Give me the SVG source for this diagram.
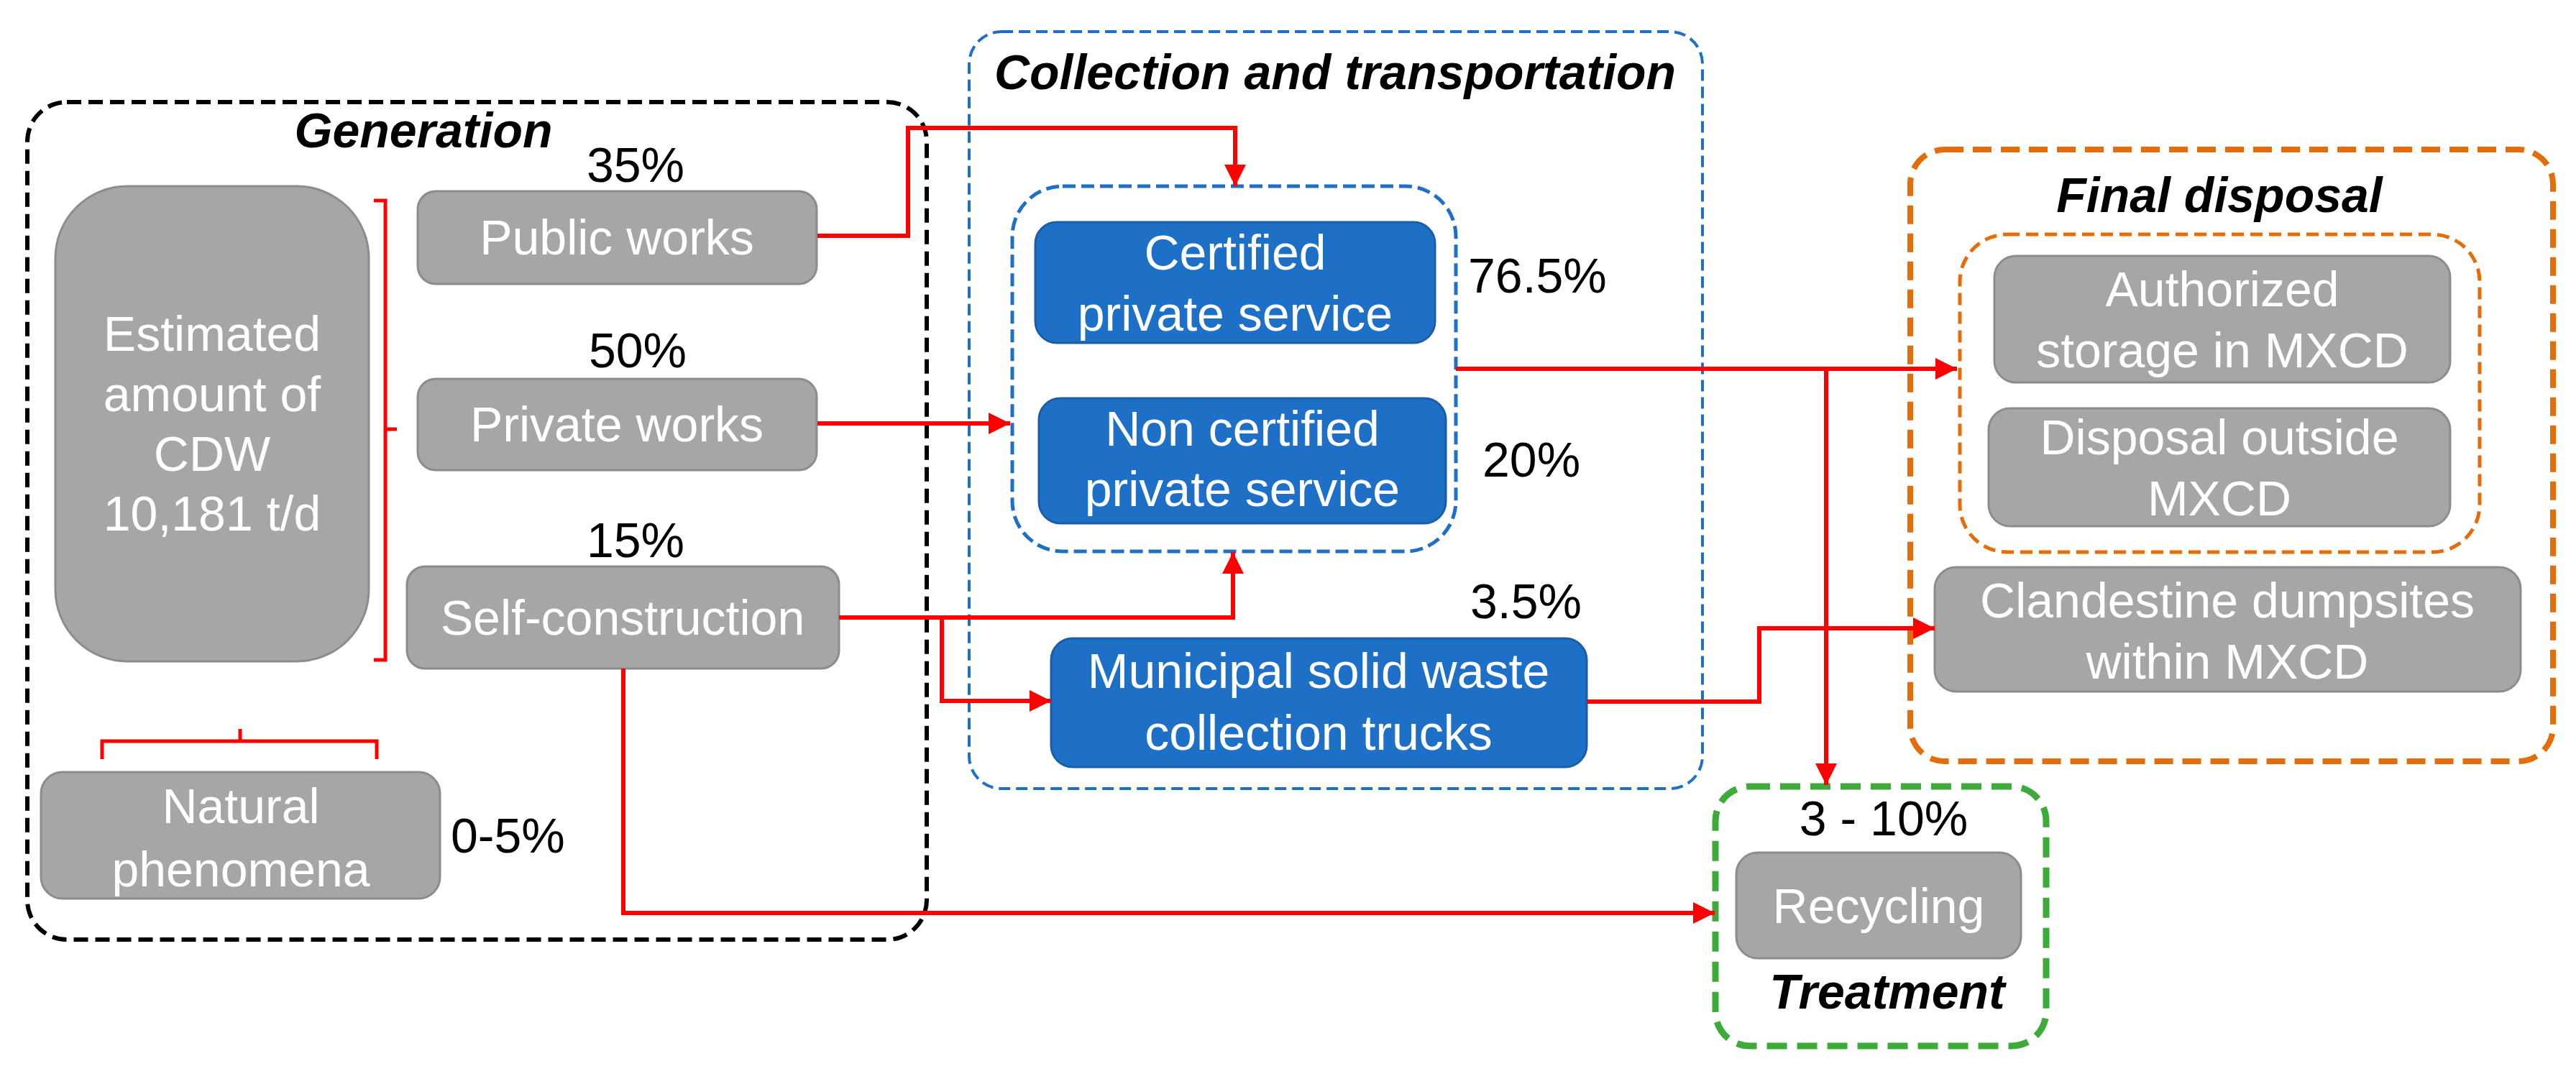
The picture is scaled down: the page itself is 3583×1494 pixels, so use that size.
<svg xmlns="http://www.w3.org/2000/svg" width="3583" height="1494" viewBox="0 0 3583 1494">
<style>
.g{fill:#A6A6A6;stroke:#8C8C8C;stroke-width:3}
.b{fill:#1E6FC6;stroke:#1A5EA8;stroke-width:3}
.nt{font-family:"Liberation Sans",Arial,sans-serif;font-size:68px;fill:#FFFFFF;text-anchor:middle}
.lb{font-family:"Liberation Sans",Arial,sans-serif;font-size:68px;fill:#000000}
.tt{font-family:"Liberation Sans",Arial,sans-serif;font-size:68px;font-weight:bold;font-style:italic;fill:#000000;text-anchor:middle}
.c{fill:none;stroke:#FF0000;stroke-width:6}
.frame{fill:none}
</style>
<defs>
<marker id="ah" markerUnits="userSpaceOnUse" markerWidth="30" markerHeight="30" refX="30" refY="15" orient="auto">
<path d="M0,0 L30,15 L0,30 z" fill="#FF0000"/>
</marker>
</defs>
<rect width="3583" height="1494" fill="#FFFFFF"/>

<g id="frames">
<rect id="generation-frame" class="frame" x="38" y="142" width="1251" height="1165" rx="55" stroke="#000000" stroke-width="6" stroke-dasharray="20 10"/>
<rect id="collection-frame" class="frame" x="1348" y="44" width="1020" height="1053" rx="45" stroke="#1F6FC6" stroke-width="4" stroke-dasharray="16 8"/>
<rect id="collection-inner" class="frame" x="1408" y="259" width="617" height="508" rx="70" stroke="#1F6FC6" stroke-width="5" stroke-dasharray="18 8"/>
<rect id="disposal-frame" class="frame" x="2657" y="208" width="894" height="851" rx="48" stroke="#E46C0A" stroke-width="8" stroke-dasharray="26 13"/>
<rect id="disposal-inner" class="frame" x="2726" y="326" width="723" height="442" rx="66" stroke="#E46C0A" stroke-width="5" stroke-dasharray="17 9"/>
<rect id="treatment-frame" class="frame" x="2386" y="1094" width="460" height="361" rx="48" stroke="#3DAA3A" stroke-width="9" stroke-dasharray="28 14"/>
</g>

<g id="labels">
<text class="tt" x="589" y="205">Generation</text>
<text class="tt" x="1857" y="124">Collection and transportation</text>
<text class="tt" x="3087" y="295">Final disposal</text>
<text class="tt" x="2625" y="1403">Treatment</text>
<text class="lb" x="884" y="253" text-anchor="middle">35%</text>
<text class="lb" x="887" y="511" text-anchor="middle">50%</text>
<text class="lb" x="884" y="775" text-anchor="middle">15%</text>
<text class="lb" x="627" y="1186">0-5%</text>
<text class="lb" x="2042" y="407">76.5%</text>
<text class="lb" x="2062" y="663">20%</text>
<text class="lb" x="2045" y="860">3.5%</text>
<text class="lb" x="2620" y="1162" text-anchor="middle">3 - 10%</text>
</g>

<g id="brackets" fill="none" stroke="#FF0000" stroke-width="5">
<path d="M520,279 H536 V918 H520 M536,597 H552"/>
<path d="M142,1056 V1031 H524 V1056 M334,1031 V1014"/>
</g>

<g id="n-estimated">
<rect class="g" x="77" y="259" width="436" height="661" rx="100"/>
<text class="nt" x="295" y="488">Estimated</text>
<text class="nt" x="295" y="572">amount of</text>
<text class="nt" x="295" y="655">CDW</text>
<text class="nt" x="295" y="738">10,181 t/d</text>
</g>
<g id="n-public">
<rect class="g" x="581" y="266" width="555" height="129" rx="25"/>
<text class="nt" x="858" y="354">Public works</text>
</g>
<g id="n-private">
<rect class="g" x="581" y="527" width="555" height="127" rx="25"/>
<text class="nt" x="858" y="614">Private works</text>
</g>
<g id="n-self">
<rect class="g" x="566" y="788" width="601" height="142" rx="25"/>
<text class="nt" x="866" y="883">Self-construction</text>
</g>
<g id="n-natural">
<rect class="g" x="57" y="1074" width="555" height="176" rx="30"/>
<text class="nt" x="335" y="1145">Natural</text>
<text class="nt" x="335" y="1233">phenomena</text>
</g>
<g id="n-certified">
<rect class="b" x="1440" y="309" width="556" height="168" rx="30"/>
<text class="nt" x="1718" y="375">Certified</text>
<text class="nt" x="1718" y="460">private service</text>
</g>
<g id="n-noncertified">
<rect class="b" x="1445" y="554" width="566" height="174" rx="30"/>
<text class="nt" x="1728" y="620">Non certified</text>
<text class="nt" x="1728" y="704">private service</text>
</g>
<g id="n-municipal">
<rect class="b" x="1462" y="888" width="745" height="179" rx="30"/>
<text class="nt" x="1834" y="957">Municipal  solid waste</text>
<text class="nt" x="1834" y="1043">collection trucks</text>
</g>
<g id="n-authorized">
<rect class="g" x="2774" y="356" width="634" height="176" rx="30"/>
<text class="nt" x="3091" y="426">Authorized</text>
<text class="nt" x="3091" y="511">storage in MXCD</text>
</g>
<g id="n-outside">
<rect class="g" x="2766" y="568" width="642" height="164" rx="30"/>
<text class="nt" x="3087" y="632">Disposal outside</text>
<text class="nt" x="3087" y="717">MXCD</text>
</g>
<g id="n-clandestine">
<rect class="g" x="2691" y="789" width="815" height="173" rx="30"/>
<text class="nt" x="3098" y="859">Clandestine dumpsites</text>
<text class="nt" x="3098" y="944">within MXCD</text>
</g>
<g id="n-recycling">
<rect class="g" x="2415" y="1186" width="396" height="147" rx="30"/>
<text class="nt" x="2613" y="1284">Recycling</text>
</g>

<g id="connectors">
<path class="c" d="M1137,328 H1263 V178 H1718 V259" marker-end="url(#ah)"/>
<path class="c" d="M1137,589 H1405" marker-end="url(#ah)"/>
<path class="c" d="M1167,859 H1715 V768" marker-end="url(#ah)"/>
<path class="c" d="M1310,859 V975 H1462" marker-end="url(#ah)"/>
<path class="c" d="M867,930 V1270 H2385" marker-end="url(#ah)"/>
<path class="c" d="M2025,513 H2542" stroke-width="9"/>
<path class="c" d="M2540,513 H2722" marker-end="url(#ah)"/>
<path class="c" d="M2540,513 V1092" marker-end="url(#ah)"/>
<path class="c" d="M2207,976 H2447 V874 H2691" marker-end="url(#ah)"/>
</g>
</svg>
